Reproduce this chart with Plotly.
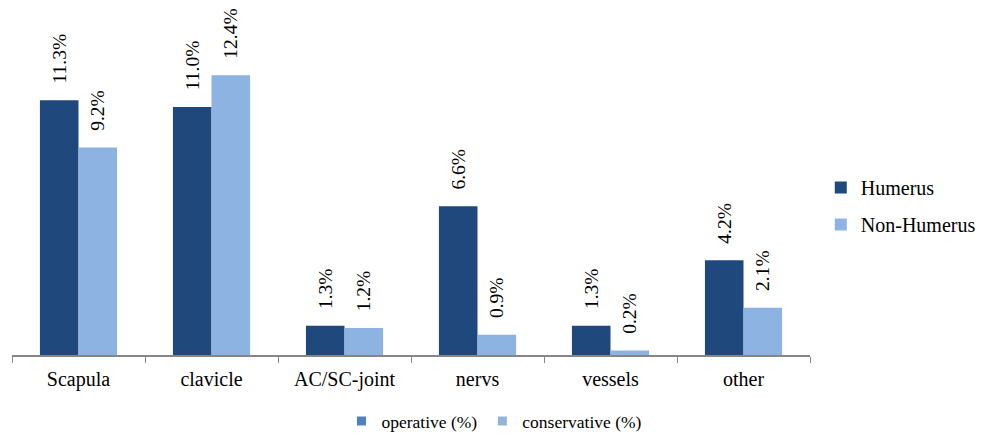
import plotly.graph_objects as go

categories = ["Scapula", "clavicle", "AC/SC-joint", "nervs", "vessels", "other"]
humerus = [11.3, 11.0, 1.3, 6.6, 1.3, 4.2]
non_humerus = [9.2, 12.4, 1.2, 0.9, 0.2, 2.1]
series_names = ["Humerus", "Non-Humerus"]
extra_legend_names = ["operative (%)", "conservative (%)"]

FONT = "Liberation Serif"
DARK = "#1F497D"
LIGHT = "#8DB3E2"

fig = go.Figure()
for i, (name, vals, col) in enumerate([(series_names[0], humerus, DARK), (series_names[1], non_humerus, LIGHT)]):
    fig.add_trace(go.Bar(
        x=categories, y=vals, name=name, marker=dict(color=col, line=dict(width=0)),
        texttemplate="\u00a0\u00a0\u2009%{y:.1f}%", textposition="outside", textangle=-90,
        constraintext="none",
        textfont=dict(family=FONT, size=19.5, color="#000000"), cliponaxis=False,
        legend="legend", legendgroup="g%d" % i,
    ))

for name, col in [(extra_legend_names[0], "#4F81BD"), (extra_legend_names[1], "#95B3D7")]:
    fig.add_trace(go.Scatter(
        x=[None], y=[None], mode="markers", name=name,
        marker=dict(symbol="square", size=9, color=col), legend="legend2",
    ))

fig.update_layout(
    width=986, height=434,
    margin=dict(l=12, r=176, t=28, b=79, autoexpand=False),
    paper_bgcolor="white", plot_bgcolor="white",
    font=dict(family=FONT, size=18, color="#000000"),
    barmode="group", bargap=0.42, bargroupgap=0,
    xaxis=dict(
        showline=True, linecolor="#868686", linewidth=1.5,
        ticks="outside", tickson="boundaries", ticklen=6, tickcolor="#868686",
        tickfont=dict(family=FONT, size=20, color="#000000"),
        ticklabelstandoff=5,
        showgrid=False,
    ),
    yaxis=dict(range=[0, 14.5], visible=False, showgrid=False),
    legend=dict(
        x=1.0135, y=0.456, xanchor="left", yanchor="middle",
        font=dict(family=FONT, size=20), tracegroupgap=8,
        bgcolor="rgba(0,0,0,0)",
    ),
    legend2=dict(
        orientation="h", x=0.6046, y=-0.202, xanchor="center", yanchor="middle",
        font=dict(family=FONT, size=17.5), bgcolor="rgba(0,0,0,0)",
    ),
)

fig.write_html("out.html", config={"displayModeBar": False},
               post_script="document.body.style.margin='0';")
